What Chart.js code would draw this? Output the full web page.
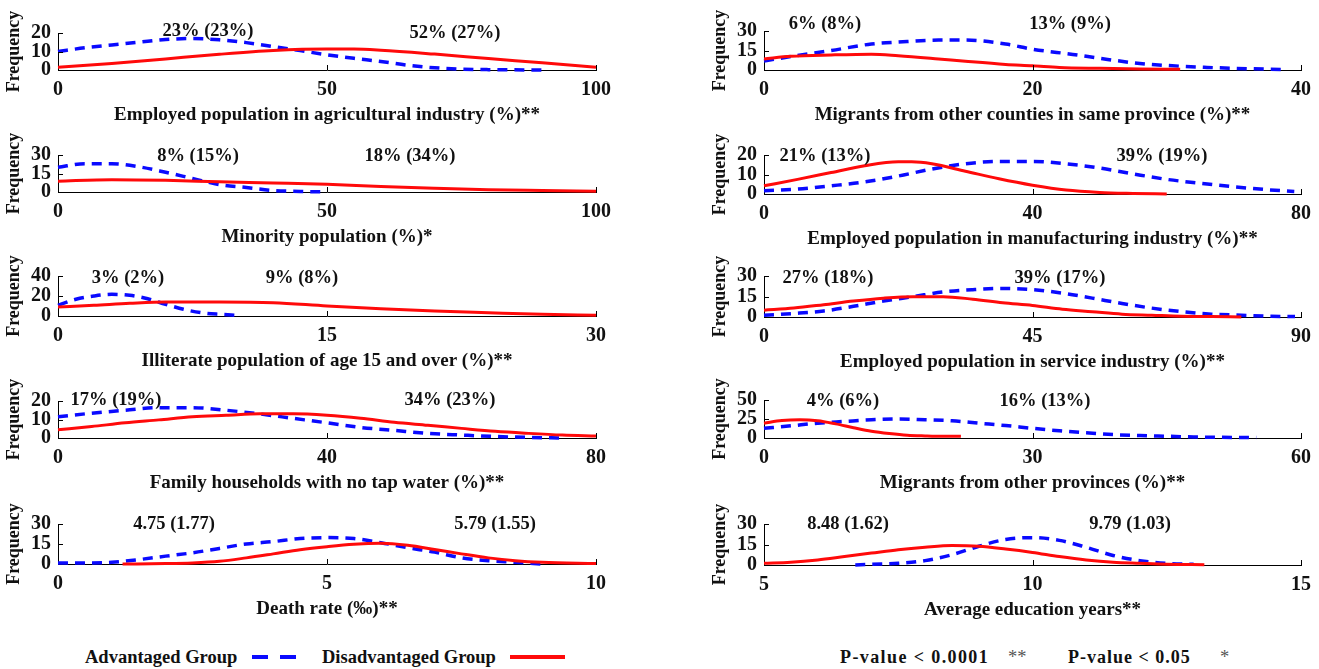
<!DOCTYPE html>
<html>
<head>
<meta charset="utf-8">
<script src="https://cdn.jsdelivr.net/npm/chart.js@4.4.1/dist/chart.umd.min.js"></script>
<style>
  body { margin:0; background:#fff; width:1319px; height:669px; position:relative; overflow:hidden;
         font-family:"Liberation Serif","Times New Roman",serif; font-weight:bold; color:#111; }
  canvas { position:absolute; }
  .note { position:absolute; font-size:18.5px; transform:translate(-50%,-50%); white-space:nowrap; }
  .leg { position:absolute; font-size:18.5px; white-space:nowrap; transform:translateY(-50%); }
  .swatch { position:absolute; height:4px; }
</style>
</head>
<body>
<script>
// panels in reading order: left/right, top to bottom
const panelTitles = [
  'Employed population in agricultural industry (%)**',
  'Migrants from other counties in same province (%)**',
  'Minority population (%)*',
  'Employed population in manufacturing industry (%)**',
  'Illiterate population of age 15 and over (%)**',
  'Employed population in service industry (%)**',
  'Family households with no tap water (%)**',
  'Migrants from other provinces (%)**',
  'Death rate (\u2030)**',
  'Average education years**'
];
const xTickLabels = [[0,50,100],[0,20,40],[0,50,100],[0,40,80],[0,15,30],[0,45,90],[0,40,80],[0,30,60],[0,5,10],[5,10,15]];
const yTickLabels = [[0,10,20],[0,15,30],[0,15,30],[0,10,20],[0,20,40],[0,15,30],[0,10,20],[0,25,50],[0,15,30],[0,15,30]];
const noteLeft  = ['23% (23%)','6% (8%)','8% (15%)','21% (13%)','3% (2%)','27% (18%)','17% (19%)','4% (6%)','4.75 (1.77)','8.48 (1.62)'];
const noteRight = ['52% (27%)','13% (9%)','18% (34%)','39% (19%)','9% (8%)','39% (17%)','34% (23%)','16% (13%)','5.79 (1.55)','9.79 (1.03)'];

// [x, frequency]
const agriAdv = [[0,10],[5,12],[10,13.5],[15,15],[20,16.5],[25,17],[30,16.3],[35,14.8],[40,12.7],[45,10.5],[50,8.2],[55,6.3],[60,4.6],[65,2.6],[70,1.2],[75,0.5],[80,0.2],[90,0]];
const agriDis = [[0,1.5],[10,3.5],[20,6],[30,8.5],[40,10.5],[50,11.3],[55,11.3],[60,10.7],[70,8.6],[80,6.2],[90,3.9],[100,1.5]];
const countyAdv = [[0,7],[3,12],[5,15],[8,20],[10,21.5],[13,23],[15,23],[18,20],[20,16],[23,12],[25,9],[28,5],[30,3.5],[33,2],[35,1.3],[39,0.3]];
const countyDis = [[0,8.5],[2,10.5],[5,11.6],[8,12.2],[10,11],[13,8.5],[15,6.7],[18,4.3],[20,3.3],[22,2],[25,1.3],[28,0.8],[31,0.5]];
const minorityAdv = [[0,20],[5,23],[10,23],[15,20.5],[20,16],[25,11],[30,6],[35,3.7],[40,1.2],[45,0.5],[50,0]];
const minorityDis = [[0,8.7],[10,10],[20,9.5],[30,8.3],[40,7.3],[50,6.2],[60,4.4],[70,3],[80,1.8],[90,1.2],[100,0.7]];
const manuAdv = [[0,1.7],[5,2.5],[10,4.2],[15,6.2],[20,9.2],[25,12.8],[30,15.5],[35,16.7],[40,16.7],[45,15.5],[50,13.3],[55,10.3],[60,7.5],[65,5.5],[70,3.7],[75,2.2],[79,1.3]];
const manuDis = [[0,4.2],[5,7.5],[10,11],[15,14.5],[20,16.5],[22,16.5],[25,15.5],[30,11.7],[35,7.8],[40,4.5],[45,2],[50,0.8],[55,0.3],[60,0]];
const illitAdv = [[0,10.7],[1,16.7],[2,20],[3,21.7],[4,20.7],[5,17.3],[6,11.7],[7,6.7],[8,3.3],[9,1.7],[10,0.7]];
const illitDis = [[0,9],[2,10.7],[4,12.7],[6,14],[9,14],[12,13.3],[15,10],[18,7.3],[21,5],[24,3.3],[27,1.7],[30,0.7]];
const serviceAdv = [[0,1.3],[5,2.6],[10,4.4],[15,7.8],[20,11.7],[25,14.9],[30,18.3],[35,20],[40,20.9],[45,20],[50,17.5],[55,13.8],[60,9.9],[65,6.5],[70,3.9],[75,2.1],[80,1.3],[85,0.5],[89,0.3]];
const serviceDis = [[0,5],[5,6.5],[10,9],[15,11.7],[20,13.8],[25,14.9],[30,14.9],[35,13],[40,10.4],[45,8.4],[50,5.7],[55,3.9],[60,2.1],[65,1.3],[70,0.5],[75,0.3],[80,0]];
const tapAdv = [[0,11.5],[5,13.4],[10,15],[15,16.4],[20,16.4],[25,15],[30,13],[35,10.6],[40,8.2],[45,5.7],[50,4.1],[55,2.5],[60,1.6],[65,0.8],[70,0.3],[75,0]];
const tapDis = [[0,4.4],[5,6.2],[10,8.2],[15,9.8],[20,11.5],[25,12.3],[30,13.1],[35,13.1],[40,12.3],[45,10.7],[50,8.5],[55,6.9],[60,5.2],[65,3.6],[70,2.5],[75,1.6],[80,1.1]];
const provAdv = [[0,12.7],[3,16],[6,19.5],[9,21.8],[12,24],[15,25],[18,24],[21,22.7],[24,19.5],[27,16.4],[30,12.7],[33,9.5],[36,6.8],[39,4.5],[42,3.2],[45,2.3],[48,1.4],[51,0.9],[55,0.5]];
const provDis = [[0,19.5],[2,23],[4,24],[6,22.7],[8,18.6],[10,13.6],[12,9],[14,5.9],[16,3.6],[18,2.7],[20,2.2],[22,2.2]];
const deathAdv = [[0,0.8],[0.5,0.8],[1,1.3],[1.5,3.3],[2,5.9],[2.5,8.4],[3,11.7],[3.5,15],[4,16.8],[4.5,19.1],[5,19.8],[5.5,19.1],[6,16],[6.5,12.2],[7,8.9],[7.5,4.6],[8,2.5],[8.5,1.3],[9,0]];
const deathDis = [[1.2,0],[2,0.3],[2.5,0.8],[3,2],[3.5,4.6],[4,7.6],[4.5,10.7],[5,13],[5.5,14.8],[6,15.5],[6.5,14],[7,10.9],[7.5,7.6],[8,4.6],[8.5,2.5],[9,1.3],[10,0.3]];
const eduAdv = [[6.7,0],[7,0.5],[7.5,1.2],[8,3.2],[8.5,7.5],[9,13.7],[9.5,18.7],[10,20],[10.5,18],[11,13],[11.5,7],[12,3.2],[12.5,1.2],[13,0.5]];
const eduDis = [[5,1.2],[5.5,2],[6,3.7],[6.5,6.2],[7,8.7],[7.5,11.2],[8,13],[8.5,14.2],[9,13.7],[9.5,11.7],[10,9.2],[10.5,6.2],[11,3.7],[11.5,2],[12,1.2],[12.5,0.5],[13.2,0.2]];

const advSeries = [agriAdv, countyAdv, minorityAdv, manuAdv, illitAdv, serviceAdv, tapAdv, provAdv, deathAdv, eduAdv];
const disSeries = [agriDis, countyDis, minorityDis, manuDis, illitDis, serviceDis, tapDis, provDis, deathDis, eduDis];

// layout: plot area top/bottom on the page, note centres
const plotTB = [[33,70],[31,70],[155,192],[155,194],[276,316],[276,317],[401,438],[400,438],[524,564],[524,565]];
const notePos = [[[208,30],[455,32]],[[825,23],[1070,23]],[[198,155],[410,155]],[[825,155],[1162,155]],
                 [[128,277],[302,277]],[[828,277],[1060,277]],[[116,399],[450,399]],[[843,400],[1045,400]],
                 [[174,523],[495,523]],[[848,523],[1130,523]]];

const FONT = 'Liberation Serif';
const ADV_COLOR = '#0a0aff';
const DIS_COLOR = '#ff0a0a';

// matlab style ticks pointing into the plot
const innerTicks = {
  id: 'innerTicks',
  afterDraw(chart) {
    const {ctx, chartArea: a, scales: {x, y}} = chart;
    ctx.save();
    ctx.strokeStyle = '#000';
    ctx.lineWidth = 1;
    ctx.beginPath();
    x.ticks.forEach((t, k) => {
      if (k === 0) return;
      const px = Math.round(x.getPixelForValue(t.value)) + 0.5;
      ctx.moveTo(px, a.bottom); ctx.lineTo(px, a.bottom - 5);
    });
    y.ticks.forEach((t, k) => {
      if (k === 0) return;
      const py = Math.round(y.getPixelForValue(t.value)) + 0.5;
      ctx.moveTo(a.left, py); ctx.lineTo(a.left + 5, py);
    });
    ctx.stroke();
    ctx.restore();
  }
};

const PAD_TOP = 28, AXIS_H = 58, AXIS_W = 58;

panelTitles.forEach((title, i) => {
  const col = i % 2;
  const [top, bottom] = plotTB[i];
  const left = col ? 706 : 0;
  const width = col ? 613 : 620;
  const height = PAD_TOP + (bottom - top) + AXIS_H;

  const cv = document.createElement('canvas');
  cv.width = width; cv.height = height;
  cv.style.left = left + 'px';
  cv.style.top = (top - PAD_TOP) + 'px';
  cv.style.width = width + 'px';
  cv.style.height = height + 'px';
  document.body.appendChild(cv);

  const xt = xTickLabels[i], yt = yTickLabels[i];
  const tickFont = {family: FONT, size: 20, weight: 'bold'};

  new Chart(cv, {
    type: 'line',
    data: {
      datasets: [
        {
          label: 'Advantaged Group',
          data: advSeries[i].map(p => ({x: p[0], y: p[1]})),
          borderColor: ADV_COLOR, borderWidth: 3.5, borderDash: [10, 7],
          pointRadius: 0, cubicInterpolationMode: 'monotone', clip: false, order: 2
        },
        {
          label: 'Disadvantaged Group',
          data: disSeries[i].map(p => ({x: p[0], y: p[1]})),
          borderColor: DIS_COLOR, borderWidth: 3,
          pointRadius: 0, cubicInterpolationMode: 'monotone', clip: false, order: 1
        }
      ]
    },
    options: {
      responsive: false,
      animation: false,
      layout: {padding: {top: PAD_TOP, bottom: 0, left: 0, right: col ? 18 : 24}},
      plugins: {legend: {display: false}, tooltip: {enabled: false}},
      scales: {
        x: {
          type: 'linear', min: xt[0], max: xt[xt.length - 1],
          afterBuildTicks: s => { s.ticks = xt.map(v => ({value: v})); },
          afterFit: s => { s.height = AXIS_H; },
          grid: {display: false, drawTicks: false},
          border: {display: true, color: '#000', width: 1},
          ticks: {padding: 8, color: '#111', font: tickFont, maxRotation: 0, autoSkip: false},
          title: {display: true, text: title, color: '#111',
                  font: {family: FONT, size: 19, weight: 'bold'}, padding: {top: 0, bottom: 2}}
        },
        y: {
          type: 'linear', min: yt[0], max: yt[yt.length - 1],
          afterBuildTicks: s => { s.ticks = yt.map(v => ({value: v})); },
          afterFit: s => { s.width = AXIS_W; },
          grid: {display: false, drawTicks: false},
          border: {display: true, color: '#000', width: 1},
          ticks: {padding: 7, color: '#111', font: tickFont, autoSkip: false},
          title: {display: true, text: 'Frequency', color: '#111',
                  font: {family: FONT, size: 18, weight: 'bold'}, padding: {top: 4, bottom: 0}}
        }
      }
    },
    plugins: [innerTicks]
  });

  [noteLeft[i], noteRight[i]].forEach((txt, k) => {
    const d = document.createElement('div');
    d.className = 'note';
    d.textContent = txt;
    d.style.left = notePos[i][k][0] + 'px';
    d.style.top = notePos[i][k][1] + 'px';
    document.body.appendChild(d);
  });
});

// legend row
function addText(txt, x, extra) {
  const d = document.createElement('div');
  d.className = 'leg';
  d.textContent = txt;
  d.style.left = x + 'px';
  d.style.top = '657px';
  if (extra) Object.assign(d.style, extra);
  document.body.appendChild(d);
}
function addSwatch(x, w, color) {
  const s = document.createElement('div');
  s.className = 'swatch';
  s.style.left = x + 'px';
  s.style.top = '655px';
  s.style.width = w + 'px';
  s.style.background = color;
  document.body.appendChild(s);
}
addText('Advantaged Group', 85);
addSwatch(252, 16, ADV_COLOR);
addSwatch(280, 16, ADV_COLOR);
addText('Disadvantaged Group', 322);
addSwatch(510, 55, DIS_COLOR);
addText('P-value < 0.0001', 840, {letterSpacing: '1.4px', fontSize: '18px'});
addText('**', 1008, {fontWeight: 'normal', color: '#555'});
addText('P-value < 0.05', 1068, {letterSpacing: '1px', fontSize: '18px'});
addText('*', 1220, {fontWeight: 'normal', color: '#555'});
</script>
</body>
</html>
